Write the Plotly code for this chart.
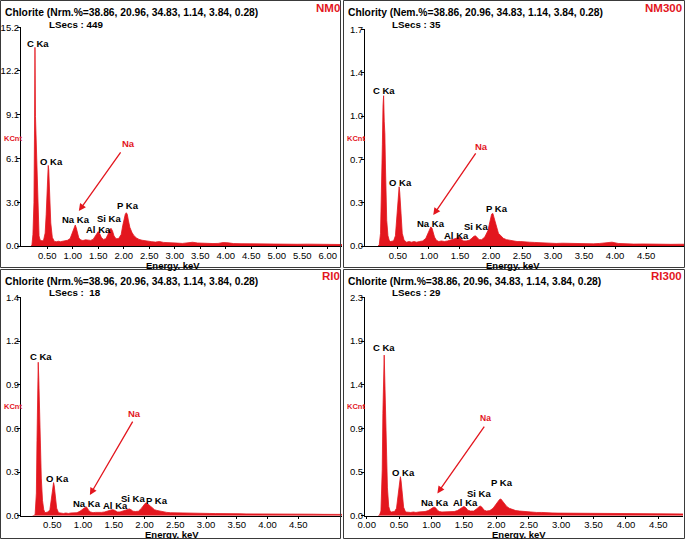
import plotly.graph_objects as go

# energy grid (keV) shared by the four spectra
energy = [
    0.18, 0.20, 0.22, 0.24, 0.25, 0.26, 0.27, 0.28, 0.29, 0.30,
    0.31, 0.32, 0.34, 0.36, 0.38, 0.40, 0.43, 0.46, 0.48, 0.50,
    0.51, 0.52, 0.53, 0.54, 0.55, 0.57, 0.60, 0.64, 0.68, 0.72,
    0.76, 0.80, 0.85, 0.90, 0.95, 0.98, 1.01, 1.03, 1.05, 1.07,
    1.09, 1.12, 1.16, 1.20, 1.25, 1.30, 1.35, 1.40, 1.44, 1.47,
    1.50, 1.53, 1.56, 1.60, 1.65, 1.69, 1.72, 1.75, 1.78, 1.81,
    1.85, 1.90, 1.95, 1.98, 2.01, 2.03, 2.05, 2.07, 2.09, 2.12,
    2.16, 2.20, 2.25, 2.30, 2.36, 2.42, 2.48, 2.55, 2.62, 2.70,
    2.78, 2.86, 2.95, 3.05, 3.15, 3.25, 3.35, 3.45, 3.55, 3.65,
    3.75, 3.85, 3.95, 4.05, 4.15, 4.30, 4.45, 4.60, 4.75, 4.90,
    5.05, 5.20, 5.40, 5.60, 5.80, 6.00, 6.20, 6.35,
]

# counts (KCnt)
counts_nm0 = [
    0.0, 0.05, 0.8, 3.0, 7.5, 13.8, 9.0, 7.8, 6.0, 4.0,
    2.6, 1.5, 0.7, 0.42, 0.36, 0.35, 0.42, 0.9, 2.2, 4.2,
    5.2, 5.6, 5.3, 4.4, 3.2, 1.6, 0.6, 0.32, 0.3, 0.33,
    0.3, 0.34, 0.36, 0.4, 0.52, 0.8, 1.15, 1.4, 1.46, 1.25,
    0.9, 0.55, 0.42, 0.38, 0.43, 0.4, 0.39, 0.46, 0.7, 0.92,
    1.0, 0.85, 0.6, 0.46, 0.5, 0.8, 1.1, 1.23, 1.05, 0.7,
    0.5, 0.52, 0.8, 1.4, 1.9, 2.2, 2.31, 2.2, 1.8, 1.3,
    0.95, 0.72, 0.56, 0.46, 0.4, 0.36, 0.31, 0.3, 0.27, 0.31,
    0.25, 0.22, 0.21, 0.2, 0.18, 0.2, 0.26, 0.21, 0.18, 0.19,
    0.17, 0.18, 0.24, 0.22, 0.17, 0.16, 0.15, 0.16, 0.14, 0.15,
    0.13, 0.14, 0.12, 0.13, 0.11, 0.12, 0.1, 0.1,
]
counts_nm300 = [
    0.0, 0.01, 0.1, 0.45, 0.8, 1.1, 1.18, 0.98, 0.88, 0.62,
    0.38, 0.2, 0.08, 0.045, 0.035, 0.035, 0.04, 0.08, 0.2, 0.36,
    0.44, 0.465, 0.42, 0.33, 0.22, 0.1, 0.045, 0.03, 0.035, 0.03,
    0.035, 0.03, 0.035, 0.04, 0.06, 0.09, 0.13, 0.15, 0.14, 0.11,
    0.07, 0.045, 0.035, 0.04, 0.035, 0.04, 0.045, 0.05, 0.06, 0.07,
    0.065, 0.05, 0.04, 0.04, 0.045, 0.06, 0.075, 0.08, 0.065, 0.05,
    0.05, 0.07, 0.12, 0.2, 0.25, 0.256, 0.22, 0.18, 0.14, 0.1,
    0.08, 0.06, 0.05, 0.045, 0.04, 0.035, 0.035, 0.03, 0.03, 0.028,
    0.025, 0.025, 0.022, 0.02, 0.022, 0.02, 0.018, 0.02, 0.018, 0.017,
    0.02, 0.026, 0.03, 0.02, 0.016, 0.015, 0.016, 0.014, 0.015, 0.013,
    0.014, 0.012, 0.012, 0.011, 0.011, 0.01, 0.01, 0.01,
]
counts_ri0 = [
    0.0, 0.0, 0.01, 0.15, 0.5, 0.85, 1.02, 0.9, 0.7, 0.5,
    0.36, 0.25, 0.1, 0.04, 0.02, 0.02, 0.025, 0.04, 0.1, 0.17,
    0.2, 0.22, 0.2, 0.16, 0.11, 0.05, 0.02, 0.015, 0.015, 0.018,
    0.015, 0.018, 0.02, 0.02, 0.03, 0.04, 0.05, 0.058, 0.06, 0.05,
    0.035, 0.025, 0.02, 0.022, 0.02, 0.022, 0.025, 0.03, 0.038, 0.04,
    0.038, 0.03, 0.025, 0.025, 0.03, 0.038, 0.042, 0.045, 0.04, 0.03,
    0.028, 0.03, 0.05, 0.07, 0.082, 0.085, 0.08, 0.07, 0.065, 0.055,
    0.04, 0.035, 0.03, 0.025, 0.022, 0.02, 0.02, 0.018, 0.018, 0.017,
    0.016, 0.016, 0.015, 0.015, 0.014, 0.015, 0.014, 0.013, 0.013, 0.012,
    0.012, 0.013, 0.014, 0.012, 0.011, 0.011, 0.01, 0.01, 0.01, 0.009,
    0.009, 0.009, 0.008, 0.008, 0.008, 0.008, 0.007, 0.007,
]
counts_ri300 = [
    0.0, 0.01, 0.05, 0.5, 1.1, 1.55, 1.73, 1.45, 1.12, 0.75,
    0.5, 0.3, 0.1, 0.05, 0.04, 0.04, 0.045, 0.08, 0.2, 0.34,
    0.4, 0.42, 0.38, 0.3, 0.2, 0.09, 0.04, 0.035, 0.035, 0.04,
    0.035, 0.04, 0.04, 0.045, 0.055, 0.07, 0.085, 0.09, 0.09, 0.08,
    0.06, 0.045, 0.04, 0.04, 0.045, 0.04, 0.045, 0.055, 0.075, 0.09,
    0.1, 0.085, 0.06, 0.05, 0.05, 0.07, 0.09, 0.105, 0.09, 0.06,
    0.05, 0.055, 0.08, 0.11, 0.14, 0.16, 0.175, 0.18, 0.16, 0.13,
    0.1, 0.08, 0.065, 0.055, 0.05, 0.045, 0.04, 0.04, 0.035, 0.035,
    0.03, 0.03, 0.028, 0.027, 0.025, 0.026, 0.024, 0.025, 0.023, 0.022,
    0.022, 0.024, 0.022, 0.02, 0.02, 0.019, 0.018, 0.018, 0.017, 0.016,
    0.016, 0.015, 0.015, 0.014, 0.014, 0.013, 0.013, 0.012,
]

# tick values / labels
xticks_nm0 = [0.5, 1.0, 1.5, 2.0, 2.5, 3.0, 3.5, 4.0, 4.5, 5.0, 5.5, 6.0]
xticks_mid = [0.5, 1.0, 1.5, 2.0, 2.5, 3.0, 3.5, 4.0, 4.5]
xticks_ri300 = [0.0, 0.5, 1.0, 1.5, 2.0, 2.5, 3.0, 3.5, 4.0, 4.5]
yticks_nm0 = [0, 3.04, 6.08, 9.12, 12.16, 15.2]
ylabels_nm0 = ["0.0", "3.0", "6.1", "9.1", "12.2", "15.2"]
yticks_nm300 = [0, 0.34, 0.68, 1.02, 1.36, 1.7]
ylabels_nm300 = ["0.0", "0.3", "0.7", "1.0", "1.4", "1.7"]
yticks_ri0 = [0, 0.29, 0.58, 0.87, 1.16, 1.45]
ylabels_ri0 = ["0.0", "0.3", "0.6", "0.9", "1.2", "1.4"]
yticks_ri300 = [0, 0.47, 0.94, 1.41, 1.88, 2.35]
ylabels_ri300 = ["0.0", "0.5", "0.9", "1.4", "1.9", "2.3"]

sample_names = ["NM0", "NM300", "RI0", "RI300"]
headers = [
    "Chlorite (Nrm.%=38.86, 20.96, 34.83, 1.14, 3.84, 0.28)",
    "Chlority (Nem.%=38.86, 20.96, 34.83, 1.14, 3.84, 0.28)",
    "Chlorite (Nrm.%=38.96, 20.96, 34.83, 1.14, 3.84, 0.28)",
    "Chlorite (Nrm.%=38.86, 20.96, 34.83, 1.14, 3.84, 0.28)",
]
lsecs = ["LSecs : 449", "LSecs : 35", "LSecs :&nbsp; 18", "LSecs : 29"]
peak_names = ["C Ka", "O Ka", "Na Ka", "Al Ka", "Si Ka", "P Ka"]

W, H = 685, 539
RED = "#e3161e"
FONT = "Liberation Sans, Arial, sans-serif"


def px(x):
    return x / W


def py(y):
    return 1 - y / H


# layout of each panel, in pixels of the 685x539 picture
panels = [
    dict(counts=counts_nm0, xt=xticks_nm0, yt=yticks_nm0, yl=ylabels_nm0,
         xdom=(21, 342), ydom=(246, 27), xr=(-0.014, 6.28), box=(0, 0, 341, 268),
         top=0, left=0, right=342, title_x=173, title_y=265.5,
         peaks=[(0.31, 14.1), (0.58, 5.85), (1.06, 1.85), (1.50, 1.18), (1.72, 1.92), (2.08, 2.80)],
         na_text=(2.1, 7.13), arrow=((1.96, 6.61), (1.12, 2.43))),
    dict(counts=counts_nm300, xt=xticks_mid, yt=yticks_nm300, yl=ylabels_nm300,
         xdom=(365, 684), ydom=(246, 29.3), xr=(-0.03, 5.11), box=(343, 0, 685, 268),
         top=0, left=343, right=684, title_x=513, title_y=265.5,
         peaks=[(0.28, 1.22), (0.54, 0.50), (1.04, 0.18), (1.44, 0.086), (1.76, 0.15), (2.09, 0.296)],
         na_text=(1.85, 0.785), arrow=((1.77, 0.74), (1.07, 0.243))),
    dict(counts=counts_ri0, xt=xticks_mid, yt=yticks_ri0, yl=ylabels_ri0,
         xdom=(21, 342), ydom=(515.7, 297.3), xr=(-0.01, 5.21), box=(0, 269, 341, 539),
         top=268, left=0, right=342, title_x=172, title_y=534,
         peaks=[(0.31, 1.06), (0.59, 0.248), (1.07, 0.082), (1.53, 0.071), (1.81, 0.115), (2.20, 0.104)],
         na_text=(1.83, 0.68), arrow=((1.82, 0.635), (1.11, 0.137))),
    dict(counts=counts_ri300, xt=xticks_ri300, yt=yticks_ri300, yl=ylabels_ri300,
         xdom=(365, 683), ydom=(515.7, 297.3), xr=(-0.026, 4.88), box=(343, 269, 685, 539),
         top=268, left=343, right=684, title_x=519, title_y=534,
         peaks=[(0.27, 1.81), (0.57, 0.463), (1.05, 0.14), (1.52, 0.14), (1.74, 0.24), (2.09, 0.355)],
         na_text=(1.84, 1.05), arrow=((1.83, 0.976), (1.09, 0.24))),
]

fig = go.Figure()
annotations = []
shapes = []
tick_font = dict(family=FONT, size=9.5, color="black")

for i, p in enumerate(panels, start=1):
    sfx = "" if i == 1 else str(i)
    xa, ya = "x" + sfx, "y" + sfx

    fig.add_trace(go.Scatter(
        x=energy, y=p["counts"], mode="lines", fill="tozeroy",
        line=dict(color=RED, width=0.8), fillcolor=RED,
        xaxis=xa, yaxis=ya, showlegend=False, hoverinfo="skip"))

    fig.layout["xaxis" + sfx] = dict(
        domain=[px(p["xdom"][0]), px(p["xdom"][1])], range=list(p["xr"]),
        anchor=ya, tickvals=p["xt"], tickformat=".2f", ticks="outside",
        ticklen=2, tickwidth=1, tickcolor="black", showline=True,
        linecolor="black", linewidth=1.2, showgrid=False, zeroline=False,
        tickfont=tick_font, ticklabelstandoff=-2, fixedrange=True, automargin=False)
    fig.layout["yaxis" + sfx] = dict(
        domain=[py(p["ydom"][0]), py(p["ydom"][1])],
        range=[0, p["yt"][-1] * 1.001],
        anchor=xa, tickvals=p["yt"], ticktext=p["yl"], ticks="outside",
        ticklen=3, tickwidth=1, tickcolor="black", showline=True,
        linecolor="black", linewidth=1, showgrid=False, zeroline=False,
        tickfont=tick_font, ticklabelstandoff=-4, fixedrange=True, automargin=False)

    # panel frame
    x0, y0, x1, y1 = p["box"]
    shapes.append(dict(type="rect", xref="paper", yref="paper",
                       x0=px(x0 + 0.5), x1=px(x1 - 0.5), y0=py(y1 - 0.5), y1=py(y0 + 0.5),
                       line=dict(color="#3a3a3a", width=1)))

    top, left = p["top"], p["left"]
    annotations.append(dict(xref="paper", yref="paper", x=px(left + 3), y=py(top + 13),
                            xanchor="left", yanchor="middle", showarrow=False,
                            text="<b>" + headers[i - 1] + "</b>",
                            font=dict(family=FONT, size=10.3, color="black")))
    annotations.append(dict(xref="paper", yref="paper", x=px(left + 47), y=py(top + 24.5),
                            xanchor="left", yanchor="middle", showarrow=False,
                            text="<b>" + lsecs[i - 1] + "</b>",
                            font=dict(family=FONT, size=9.8, color="black")))
    annotations.append(dict(xref="paper", yref="paper", x=px(p["right"]), y=py(top + 8),
                            xanchor="right", yanchor="middle", showarrow=False,
                            text="<b>" + sample_names[i - 1] + "</b>",
                            font=dict(family=FONT, size=11.5, color=RED)))
    annotations.append(dict(xref="paper", yref="paper", x=px(left + 2), y=py(top + 138),
                            xanchor="left", yanchor="middle", showarrow=False,
                            text="<b>KCnt</b>",
                            font=dict(family=FONT, size=7.5, color=RED)))
    annotations.append(dict(xref="paper", yref="paper", x=px(p["title_x"]), y=py(p["title_y"]),
                            xanchor="center", yanchor="middle", showarrow=False,
                            text="<b>Energy. keV</b>",
                            font=dict(family=FONT, size=9.5, color="black")))

    for name, (ex, ey) in zip(peak_names, p["peaks"]):
        annotations.append(dict(xref=xa, yref=ya, x=ex, y=ey, showarrow=False,
                                xanchor="center", yanchor="middle",
                                text="<b>" + name + "</b>",
                                font=dict(family=FONT, size=9.5, color="black")))

    annotations.append(dict(xref=xa, yref=ya, x=p["na_text"][0], y=p["na_text"][1],
                            showarrow=False, text="<b>Na</b>",
                            font=dict(family=FONT, size=9.5 if i < 4 else 8.5, color=RED)))
    (tx, ty), (hx, hy) = p["arrow"]
    annotations.append(dict(xref=xa, yref=ya, x=hx, y=hy, axref=xa, ayref=ya,
                            ax=tx, ay=ty, text="", showarrow=True, arrowhead=2,
                            arrowsize=1.1, arrowwidth=1.3, arrowcolor=RED))

fig.update_layout(
    width=W, height=H, margin=dict(l=0, r=0, t=0, b=0, autoexpand=False),
    paper_bgcolor="white", plot_bgcolor="white",
    annotations=annotations, shapes=shapes, showlegend=False,
)

fig.write_html("out.html", config={"displayModeBar": False},
               post_script="document.body.style.margin='0px';")
